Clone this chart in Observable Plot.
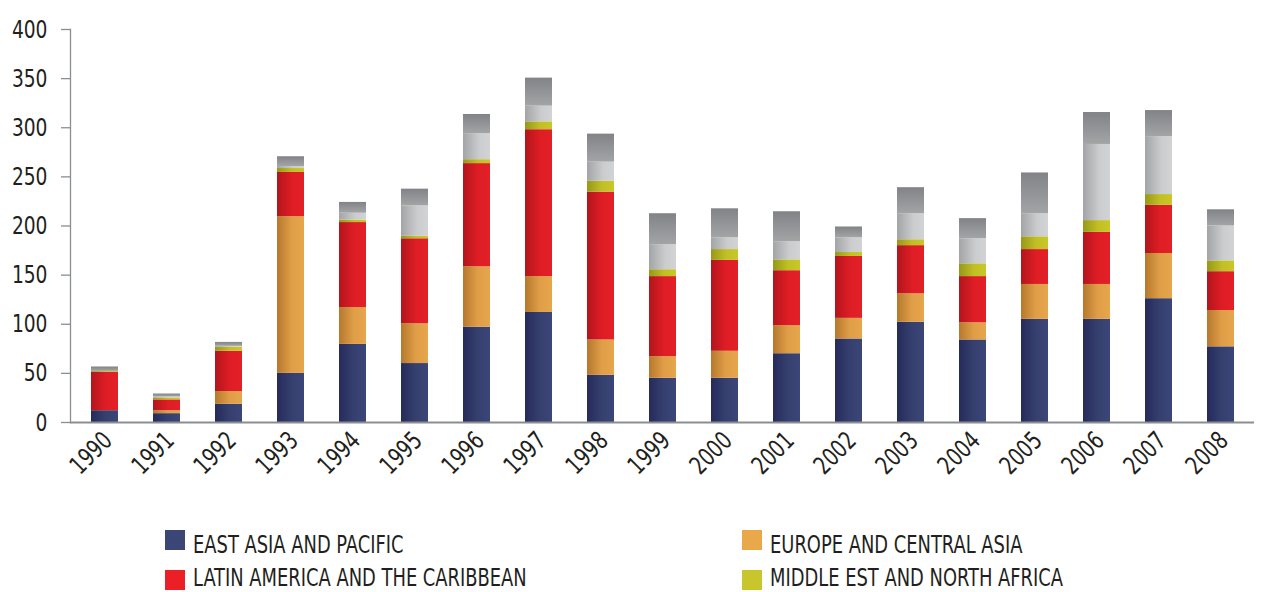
<!DOCTYPE html>
<html><head><meta charset="utf-8">
<script src="https://cdn.jsdelivr.net/npm/d3@7"></script>
<script src="https://cdn.jsdelivr.net/npm/@observablehq/plot@0.6"></script>
<style>
body{margin:0;background:#fff;}
#chart{width:1262px;height:592px;overflow:hidden;}
#chart svg{display:block;}
</style></head><body><div id="chart"></div><script>
const years = ["1990","1991","1992","1993","1994","1995","1996","1997","1998","1999","2000","2001","2002","2003","2004","2005","2006","2007","2008"];
const seriesNames = ["EAST ASIA AND PACIFIC","EUROPE AND CENTRAL ASIA","LATIN AMERICA AND THE CARIBBEAN","MIDDLE EST AND NORTH AFRICA","SOUTH ASIA","SUB-SAHARAN AFRICA"];
const eastAsia  = [12, 9, 18.5, 50, 79.5, 60, 97, 112, 48, 45, 45, 70, 85, 102, 84, 105, 105, 126, 77];
const europe    = [0, 3, 13, 159.5, 37.5, 40.5, 61.5, 36.5, 36, 22, 27.5, 28.5, 21, 29, 17.5, 35.5, 35.5, 46, 37];
const latin     = [39, 11, 41, 45, 86.5, 86.5, 105, 149.5, 150.5, 81.5, 92.5, 56, 63, 49, 47, 35.5, 53, 49, 39.5];
const mena      = [1, 2, 4, 4, 2.5, 2.5, 4, 8, 11, 7, 11, 11, 4, 6, 13, 13, 12, 11, 11];
const southAsia = [0, 1, 1, 2, 7, 31, 26.5, 16, 19.5, 25.5, 12, 18.5, 15, 26.5, 25.5, 23.5, 77.5, 59, 35.5];
const subSahara = [4.5, 3, 4, 10, 11, 17, 19.5, 28.5, 28.5, 31.5, 29.5, 30.5, 11, 26.5, 20.5, 41.5, 32.5, 26.5, 16.5];
const yTicks = [0, 50, 100, 150, 200, 250, 300, 350, 400];
const legendNames = ["EAST ASIA AND PACIFIC","EUROPE AND CENTRAL ASIA","LATIN AMERICA AND THE CARIBBEAN","MIDDLE EST AND NORTH AFRICA"];

const seriesValues = [eastAsia, europe, latin, mena, southAsia, subSahara];
const rows = [];
seriesNames.forEach((s, si) => years.forEach((y, i) => rows.push({year: y, series: s, value: seriesValues[si][i]})));

// gradient styles (horizontal shading of each bar segment)
const grads = [
  {id: "gBlue",   dir: "h", stops: [["0", "#252b5a"], ["0.55", "#36406f"], ["1", "#3b4678"]]},
  {id: "gOrange", dir: "h", stops: [["0", "#b5782d"], ["0.55", "#e09e47"], ["1", "#e6a64c"]]},
  {id: "gRed",    dir: "h", stops: [["0", "#b2151c"], ["0.55", "#de1d25"], ["1", "#e32027"]]},
  {id: "gYellow", dir: "h", stops: [["0", "#969819"], ["0.55", "#c0bf24"], ["1", "#c9c728"]]},
  {id: "gLight",  dir: "h", stops: [["0", "#a3a4a6"], ["0.6", "#cbccce"], ["1", "#d2d3d5"]]},
  {id: "gDark",   dir: "v", stops: [["0", "#828387"], ["1", "#a3a4a6"]]}
];
const swatchColors = {"EAST ASIA AND PACIFIC": "#3b4677", "EUROPE AND CENTRAL ASIA": "#e9a84a", "LATIN AMERICA AND THE CARIBBEAN": "#ec1f27", "MIDDLE EST AND NORTH AFRICA": "#c8c62a"};

const font = '"Liberation Sans Narrow", "DejaVu Sans Condensed", sans-serif';
const axisGray = "#8a8d91";
const textColor = "#231f20";
const narrow = 0.83; // horizontal squeeze to mimic the condensed typeface

const chart = Plot.plot({
  width: 1262, height: 505,
  marginTop: 29, marginBottom: 83, marginLeft: 70, marginRight: 8,
  style: {fontFamily: font, fontSize: "25px", color: textColor, background: "white"},
  x: {type: "band", domain: years, paddingInner: 0.567, paddingOuter: 0.29, label: null},
  y: {domain: [0, 400], label: null},
  color: {type: "ordinal", domain: seriesNames, range: grads.map(g => `url(#${g.id})`)},
  marks: [
    Plot.barY(rows, {x: "year", y: "value", fill: "series"}),
    Plot.frame({anchor: "left", stroke: axisGray, strokeWidth: 1.3}),
    Plot.ruleY([0], {stroke: axisGray, strokeWidth: 2.2}),
    Plot.axisY({ticks: yTicks, tickSize: 9, tickPadding: 14, stroke: axisGray, strokeWidth: 1.3, fill: textColor, fontSize: 25, label: null}),
    Plot.axisX({tickSize: 0, tickPadding: 14, tickRotate: -45, fill: textColor, fontSize: 25, dx: 3, label: null})
  ]
});

const defs = d3.select(chart).insert("defs", ":first-child");
grads.forEach(g => {
  const lg = defs.append("linearGradient").attr("id", g.id)
    .attr("x1", 0).attr("y1", 0).attr("x2", g.dir === "h" ? 1 : 0).attr("y2", g.dir === "h" ? 0 : 1);
  g.stops.forEach(([o, c]) => lg.append("stop").attr("offset", o).attr("stop-color", c));
});
// squeeze axis tick labels horizontally (along their own text direction)
d3.select(chart).selectAll("g[aria-label='y-axis tick label'] text, g[aria-label='x-axis tick label'] text").each(function() {
  const t = this.getAttribute("transform") || "";
  this.setAttribute("transform", `${t} scale(${narrow},1)`);
});

document.getElementById("chart").appendChild(chart);

// legend below the plot
const leg = d3.select("#chart").append("svg").attr("width", 1262).attr("height", 87)
  .style("font-family", font).style("display", "block");
const legPos = [[165, 25], [742, 25], [165, 65], [742, 65]];
const baselines = [48, 48, 81, 81];
legendNames.forEach((name, i) => {
  const [lx, ly] = legPos[i];
  leg.append("rect").attr("x", lx).attr("y", ly).attr("width", 20).attr("height", 20).attr("fill", swatchColors[name]);
  leg.append("text").attr("transform", `translate(${lx + 28},${baselines[i]}) scale(0.78,1)`)
    .attr("font-size", 25.5).attr("fill", textColor).text(name);
});
</script></body></html>
